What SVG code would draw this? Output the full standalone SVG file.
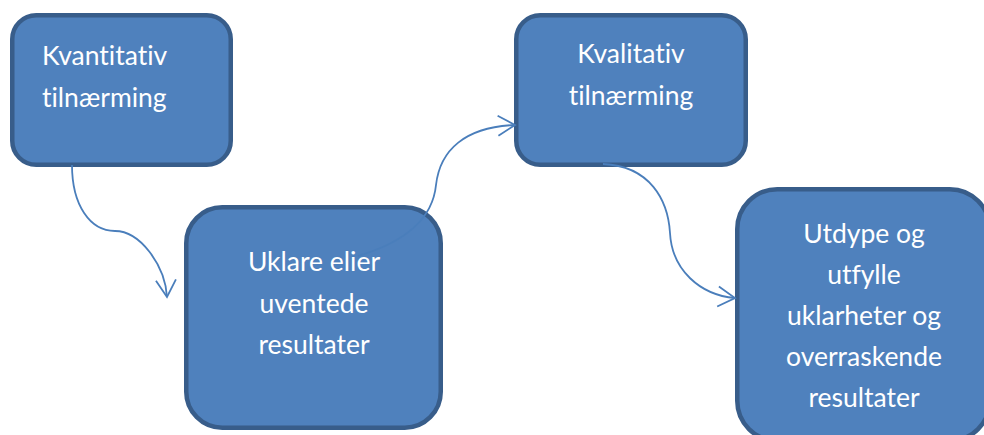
<svg xmlns="http://www.w3.org/2000/svg" width="984" height="435" viewBox="0 0 984 435">
  <style>
    .box { fill: #4F81BD; stroke: #385D8A; stroke-width: 4.5; }
    .lbl { fill: #FFFFFF; font-family: Lato, "Liberation Sans", sans-serif; font-size: 26.5px; font-variant-ligatures: none; font-feature-settings: "liga" 0; }
    .mid { text-anchor: middle; }
    .conn { fill: none; stroke: #4A7EBB; stroke-width: 1.8; }
  </style>
  <defs>
    <marker id="chevron" markerUnits="userSpaceOnUse" markerWidth="24" markerHeight="24" viewBox="-20 -12 24 24" refX="0" refY="0" orient="auto">
      <path d="M-17,-10 L0,0 L-17,10" fill="none" stroke="#4A7EBB" stroke-width="1.8"/>
    </marker>
  </defs>

  <g id="kvantitativ">
    <rect class="box" x="12.25" y="15.25" width="218.5" height="149.5" rx="24"/>
    <text class="lbl" x="42" y="65">Kvantitativ</text>
    <text class="lbl" x="42" y="107">tilnærming</text>
  </g>

  <g id="uklare">
    <rect class="box" x="186.25" y="207.25" width="254.5" height="220.5" rx="36"/>
    <text class="lbl mid" x="314" y="271">Uklare elier</text>
    <text class="lbl mid" x="314" y="313">uventede</text>
    <text class="lbl mid" x="314" y="354">resultater</text>
  </g>

  <g id="kvalitativ">
    <rect class="box" x="516.25" y="15.25" width="229.5" height="149.5" rx="24"/>
    <text class="lbl mid" x="631" y="63">Kvalitativ</text>
    <text class="lbl mid" x="631" y="105">tilnærming</text>
  </g>

  <g id="utdype">
    <rect class="box" x="737.25" y="189.25" width="252.5" height="251.5" rx="40"/>
    <text class="lbl mid" x="864" y="243">Utdype og</text>
    <text class="lbl mid" x="864" y="284">utfylle</text>
    <text class="lbl mid" x="864" y="325">uklarheter og</text>
    <text class="lbl mid" x="864" y="366">overraskende</text>
    <text class="lbl mid" x="864" y="407">resultater</text>
  </g>

  <g id="connectors">
    <path class="conn" d="M72,165 C72,205 90,231 115,231 C140,231 165,265 167,297" marker-end="url(#chevron)"/>
    <path class="conn" d="M358,256 C395,245 432,225 436,185 C440,150 465,127 515,125" marker-end="url(#chevron)"/>
    <path class="conn" d="M603,164 C650,166 668,200 670,233 C672,270 700,295 735,298" marker-end="url(#chevron)"/>
  </g>
</svg>
